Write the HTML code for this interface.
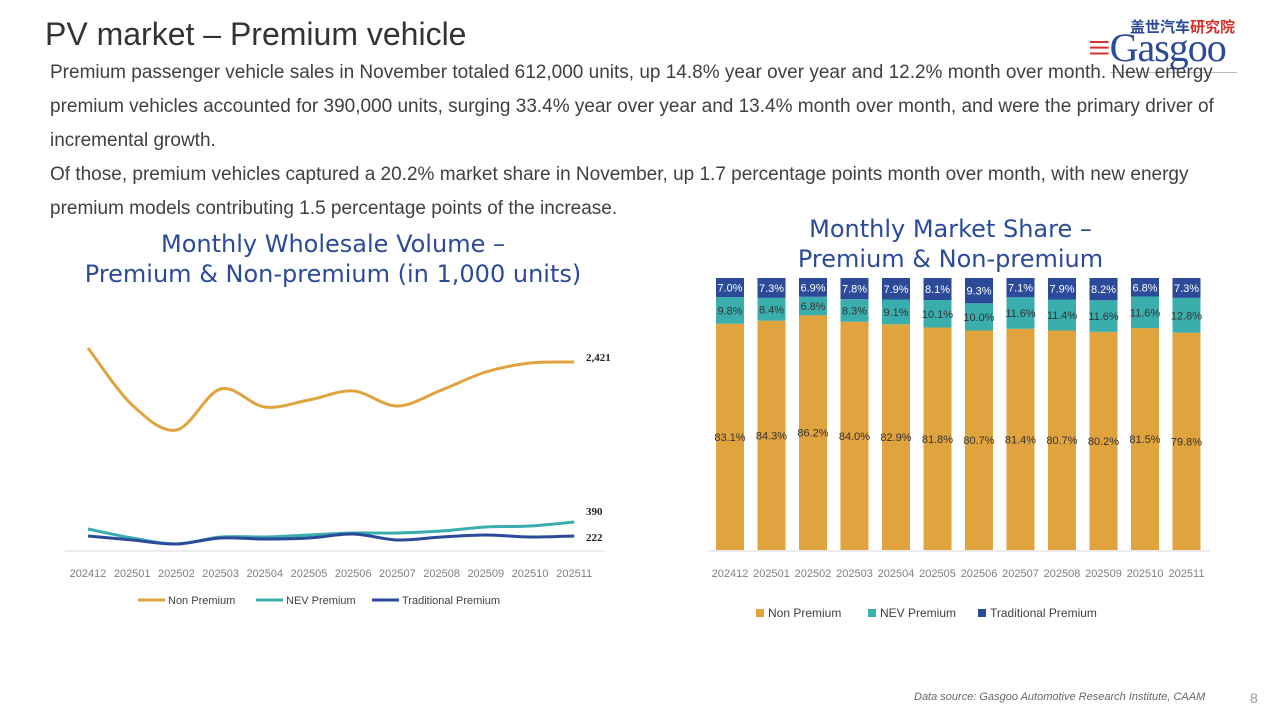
<!DOCTYPE html>
<html><head><meta charset="utf-8"><style>
body{margin:0;width:1280px;height:720px;background:#fff;font-family:"Liberation Sans","Noto Sans CJK SC",sans-serif;position:relative;overflow:hidden}
.t{position:absolute;white-space:nowrap}
</style></head><body>
<div class="t" style="left:45px;top:16px;font-size:32px;color:#333">PV market – Premium vehicle</div>
<div style="position:absolute;left:1110px;top:72px;width:127px;height:1px;background:#bbb"></div>
<div class="t" style="left:1130px;top:16px;font-size:15px;font-weight:bold"><span style="color:#2b4a9a">盖世汽车</span><span style="color:#d9302c">研究院</span></div>
<div class="t" style="left:1088px;top:24px;font-size:40px;color:#2b4a9a;font-family:'Liberation Serif',serif;letter-spacing:-1px"><span style="color:#d9302c">≡</span>Gasgoo</div>
<div style="position:absolute;left:50px;top:56px;white-space:nowrap;font-size:19px;line-height:34px;color:#404040">Premium passenger vehicle sales in November totaled 612,000 units, up 14.8% year over year and 12.2% month over month. New energy<br>premium vehicles accounted for 390,000 units, surging 33.4% year over year and 13.4% month over month, and were the primary driver of<br>incremental growth.<br>Of those, premium vehicles captured a 20.2% market share in November, up 1.7 percentage points month over month, with new energy<br>premium models contributing 1.5 percentage points of the increase.</div>
<div class="t" style="left:0;width:666px;text-align:center;top:229px;font-size:24px;line-height:30px;color:#2b4a9a;font-family:'DejaVu Sans',sans-serif">Monthly Wholesale Volume –<br>Premium &amp; Non-premium (in 1,000 units)</div>
<div class="t" style="left:693px;width:515px;text-align:center;top:214px;font-size:24px;line-height:30px;color:#2b4a9a;font-family:'DejaVu Sans',sans-serif">Monthly Market Share –<br>Premium &amp; Non-premium</div>
<svg id="s" width="1280" height="720" style="position:absolute;left:0;top:0" font-family="Liberation Sans, sans-serif"></svg>
<div class="t" style="left:914px;top:691px;font-size:11px;font-style:italic;color:#666">Data source: Gasgoo Automotive Research Institute, CAAM</div>
<div class="t" style="left:1250px;top:690px;font-size:14px;color:#999">8</div>
<script>
const s=document.getElementById('s');let h='';
const lab=['202412','202501','202502','202503','202504','202505','202506','202507','202508','202509','202510','202511'];
h+='<line x1="65" y1="551" x2="605" y2="551" stroke="#d9d9d9"/>';
const xs=lab.map((_,i)=>88+i*44.2);
lab.forEach((l,i)=>h+=`<text x="${xs[i]}" y="577" font-size="11" fill="#7f7f7f" text-anchor="middle">${l}</text>`);
function path(ys){let p=`M${xs[0]},${ys[0]}`;for(let i=0;i<ys.length-1;i++){const p0=[xs[Math.max(i-1,0)],ys[Math.max(i-1,0)]],p1=[xs[i],ys[i]],p2=[xs[i+1],ys[i+1]],p3=[xs[Math.min(i+2,ys.length-1)],ys[Math.min(i+2,ys.length-1)]];p+=` C${p1[0]+(p2[0]-p0[0])/6},${p1[1]+(p2[1]-p0[1])/6} ${p2[0]-(p3[0]-p1[0])/6},${p2[1]-(p3[1]-p1[1])/6} ${p2[0]},${p2[1]}`;}return p;}
h+=`<path d="${path([348,405,430,389,407,400,391,406,390,372,363,362])}" fill="none" stroke="#e0a33e" stroke-width="3"/>`;
h+=`<path d="${path([529,538,544,537,537,535,533,533,531,527,526,522])}" fill="none" stroke="#3aaead" stroke-width="3"/>`;
h+=`<path d="${path([536,540,544,538,539,538,534,540,537,535,537,536])}" fill="none" stroke="#2b4a9a" stroke-width="3"/>`;
h+='<text x="586" y="361" font-size="11" font-weight="bold" font-family="Liberation Serif,serif" fill="#222">2,421</text>';
h+='<text x="586" y="515" font-size="11" font-weight="bold" font-family="Liberation Serif,serif" fill="#222">390</text>';
h+='<text x="586" y="541" font-size="11" font-weight="bold" font-family="Liberation Serif,serif" fill="#222">222</text>';
[[138,'#e0a33e','Non Premium'],[256,'#3aaead','NEV Premium'],[372,'#2b4a9a','Traditional Premium']].forEach(([x,c,t])=>{h+=`<line x1="${x}" y1="600" x2="${x+27}" y2="600" stroke="${c}" stroke-width="3"/><text x="${x+30}" y="604" font-size="11" fill="#404040">${t}</text>`});
const np=[83.1,84.3,86.2,84.0,82.9,81.8,80.7,81.4,80.7,80.2,81.5,79.8],nv=[9.8,8.4,6.8,8.3,9.1,10.1,10.0,11.6,11.4,11.6,11.6,12.8],tr=[7.0,7.3,6.9,7.8,7.9,8.1,9.3,7.1,7.9,8.2,6.8,7.3];
h+='<line x1="708" y1="551" x2="1210" y2="551" stroke="#d9d9d9"/>';
const H=272,B=550;
lab.forEach((l,i)=>{const x=716+i*41.5,w=28,cx=x+w/2;const tot=np[i]+nv[i]+tr[i];const a=np[i]/tot*H,b=nv[i]/tot*H,c=tr[i]/tot*H;
h+=`<rect x="${x}" y="${B-a}" width="${w}" height="${a}" fill="#e0a33e"/><rect x="${x}" y="${B-a-b}" width="${w}" height="${b}" fill="#3aaead"/><rect x="${x}" y="${B-a-b-c}" width="${w}" height="${c}" fill="#2b4a9a"/>`;
h+=`<text x="${cx}" y="${B-a/2+4}" font-size="11" fill="#333" text-anchor="middle">${np[i].toFixed(1)}%</text>`;
h+=`<text x="${cx}" y="${B-a-b/2+4}" font-size="11" fill="#333" text-anchor="middle">${nv[i].toFixed(1)}%</text>`;
h+=`<text x="${cx}" y="${B-a-b-c/2+4}" font-size="11" fill="#fff" text-anchor="middle">${tr[i].toFixed(1)}%</text>`;
h+=`<text x="${cx}" y="577" font-size="11" fill="#7f7f7f" text-anchor="middle">${l}</text>`;});
[[756,'#e0a33e','Non Premium'],[868,'#3aaead','NEV Premium'],[978,'#2b4a9a','Traditional Premium']].forEach(([x,c,t])=>{h+=`<rect x="${x}" y="609" width="8" height="8" fill="${c}"/><text x="${x+12}" y="617" font-size="12" fill="#404040">${t}</text>`});
s.innerHTML=h;
</script>
</body></html>
